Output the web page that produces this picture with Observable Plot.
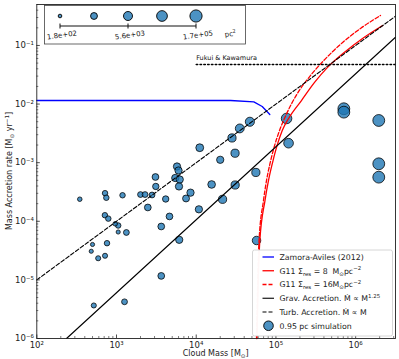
<!DOCTYPE html>
<html><head><meta charset="utf-8">
<script src="https://cdn.jsdelivr.net/npm/d3@7"></script>
<script src="https://cdn.jsdelivr.net/npm/@observablehq/plot@0.6"></script>
<style>
body{margin:0;background:#fff;}
#chart{width:399px;height:359px;}
</style></head><body><div id="chart"></div>
<script>
// 0.95 pc simulation clouds: mass [Msun], accretion rate [Msun/yr], area [pc^2]
const simMass = [346,718,745,1190,715,789,964,1050,1050,1330,
  500,760,482,589,718,519,1260,2000,2280,2790,
  3080,3110,2470,4140,4620,3640,5740,6000,5460,6210,
  6080,7450,8480,11070,10800,15600,20000,21400,6120,3640,
  47100,35200,28100,30700,56000,30800,1.36e5,1.44e5,7.11e5,7.11e5,
  1.95e6,1.95e6,1.95e6,57100];
const simRate = [2.38e-4,3.02e-4,2.52e-4,2.78e-4,1.27e-4,1.11e-4,9.06e-5,8.47e-5,6.56e-5,6.44e-5,
  4.02e-5,4.23e-5,3.08e-5,2.34e-5,2.58e-5,3.66e-6,4.23e-6,2.86e-4,2.86e-4,2.81e-4,
  5.70e-4,3.93e-4,1.72e-4,2.40e-4,1.21e-4,8.15e-5,8.61e-4,7.36e-4,5.48e-4,5.16e-4,
  3.93e-4,2.45e-4,3.08e-4,1.80e-3,1.60e-4,4.25e-4,1.12e-3,2.37e-4,4.83e-5,1.17e-5,
  4.99e-3,3.84e-3,2.64e-3,1.45e-3,6.81e-4,4.16e-4,5.68e-3,2.15e-3,8.32e-3,7.28e-3,
  5.25e-3,9.57e-4,5.66e-4,4.70e-5];
const simArea = [260,420,420,420,420,420,260,420,220,510,
  220,420,220,340,340,340,510,510,510,510,
  920,720,920,720,920,920,1350,1350,1350,1350,
  1350,1040,1350,2050,1350,1780,1350,2760,1350,920,
  6100,5000,2760,2760,2760,2760,25000,10200,111000,111000,
  111000,111000,111000,3500];

// Zamora-Aviles (2012)
const zamoraMass = [100, 2.7e4, 5.28e4, 6.73e4, 8.38e4];
const zamoraRate = [0.0115, 0.0115, 0.0109, 9.1e-3, 6.65e-3];

// G11 Sigma_res = 8
const g11aMass = [57900,59640,62800,72900,80700,89900,101900,120000,144000,209000,305000,444000,746000,1.22e6,2.18e6];
const g11aRate = [1e-6,6.59e-6,4.70e-5,2.26e-4,4.97e-4,9.57e-4,1.84e-3,3.54e-3,5.68e-3,0.0115,0.0234,0.0422,0.0790,0.1315,0.219];
// G11 Sigma_res = 16
const g11bMass = [57100,58700,61400,69800,76200,84300,94700,111000,136000,185000,272000,399000,686000,1.15e6,2.05e6];
const g11bRate = [1e-6,6.59e-6,4.70e-5,2.26e-4,4.97e-4,9.69e-4,1.82e-3,3.54e-3,6.83e-3,0.0150,0.0308,0.0555,0.1125,0.195,0.325];

// Grav. accretion (M^1.25) and turb. accretion (M)
const gravMass = [236, 3.162e6];
const gravRate = [1e-6, 0.138];
const turbMass = [100, 3.162e6];
const turbRate = [1e-5, 0.316];

// Fukui & Kawamura level
const fkMass = [1e4, 3.162e6];
const fkRate = [0.0474, 0.0474];

// ticks
const xMajor = [1e2,1e3,1e4,1e5,1e6];
const xMajorLabels = ["10²","10³","10⁴","10⁵","10⁶"];
const yMajor = [1e-6,1e-5,1e-4,1e-3,1e-2,1e-1];
const yMajorLabels = ["10⁻⁶","10⁻⁵","10⁻⁴","10⁻³","10⁻²","10⁻¹"];
const sizeLegendValues = [180, 1000, 5600, 31000, 170000];
const sizeLegendLabels = ["1.8e+02","","5.6e+03","","1.7e+05"];

const xDomain = [100, 3.162e6], yDomain = [1e-6, 0.5];
const xMinor = [], yMinor = [];
for (let e = 2; e <= 6; e++) for (let k = 2; k <= 9; k++) { const v = k * 10 ** e; if (v <= xDomain[1]) xMinor.push(v); }
for (let e = -6; e <= -1; e++) for (let k = 2; k <= 9; k++) { const v = k * 10 ** e; if (v <= yDomain[1]) yMinor.push(v); }

const zip = (a, b) => a.map((v, i) => ({m: v, r: b[i]}));
const sim = simMass.map((m, i) => ({m, r: simRate[i], area: simArea[i]}));
const rVal = a => Math.log10(a) - 1.963;

const W = 399, H = 359, mL = 36.3, mR = 4, mT = 4, mB = 21;
const fw = W - mL - mR, fh = H - mT - mB;

const plot = Plot.plot({
  width: W, height: H,
  marginLeft: mL, marginRight: mR, marginTop: mT, marginBottom: mB,
  x: {type: "log", domain: xDomain},
  y: {type: "log", domain: yDomain},
  r: {type: "sqrt", domain: [0, 3.267], range: [0, 6.1]},
  style: {fontFamily: "DejaVu Sans, sans-serif", fontSize: "8px", background: "white", color: "#222"},
  marks: [
    Plot.dot(sim, {x: "m", y: "r", r: d => rVal(d.area), fill: "#1f77b4", fillOpacity: 0.8, stroke: "#000", strokeOpacity: 0.85, strokeWidth: 0.9}),
    Plot.line(zip(zamoraMass, zamoraRate), {x: "m", y: "r", stroke: "blue", strokeWidth: 1.3}),
    Plot.line(zip(g11aMass, g11aRate), {x: "m", y: "r", stroke: "red", strokeWidth: 1.3, curve: "monotone-x"}),
    Plot.line(zip(g11bMass, g11bRate), {x: "m", y: "r", stroke: "red", strokeWidth: 1.3, strokeDasharray: "4,2", curve: "monotone-x"}),
    Plot.line(zip(gravMass, gravRate), {x: "m", y: "r", stroke: "black", strokeWidth: 1.1}),
    Plot.line(zip(turbMass, turbRate), {x: "m", y: "r", stroke: "black", strokeWidth: 1.1, strokeDasharray: "4,2"}),
    Plot.line(zip(fkMass, fkRate), {x: "m", y: "r", stroke: "black", strokeWidth: 1.5, strokeDasharray: "1.5,2.3"}),
    Plot.text([{m: fkMass[0], r: fkRate[0]}], {x: "m", y: "r", text: () => "Fukui & Kawamura", textAnchor: "start", dy: -7, fontSize: 6.5, fill: "#111"}),
    Plot.tickX(xMajor, {x: d => d, insetTop: fh - 3.5, stroke: "#222", strokeWidth: 0.8}),
    Plot.tickX(xMinor, {x: d => d, insetTop: fh - 2, stroke: "#222", strokeWidth: 0.6}),
    Plot.tickY(yMajor, {y: d => d, insetRight: fw - 3.5, stroke: "#222", strokeWidth: 0.8}),
    Plot.tickY(yMinor, {y: d => d, insetRight: fw - 2, stroke: "#222", strokeWidth: 0.6}),
    Plot.axisX(xMajor, {tickSize: 0, tickPadding: 3, tickFormat: d => xMajorLabels[xMajor.indexOf(d)], fontSize: 8.5, label: null}),
    Plot.axisY(yMajor, {tickSize: 0, tickPadding: 3, tickFormat: d => yMajorLabels[yMajor.indexOf(d)], fontSize: 8.5, label: null}),
    Plot.frame({stroke: "#222", strokeWidth: 0.9})
  ]
});
document.getElementById("chart").appendChild(plot);

const svg = d3.select(plot);
const font = "DejaVu Sans, sans-serif";
function rich(sel, parts, size) {
  let shift = 0;
  parts.forEach(([t, k]) => {
    const target = k === "sub" ? size * 0.25 : k === "sup" ? -size * 0.4 : 0;
    sel.append("tspan").attr("dy", target - shift).attr("font-size", k === "n" ? size : size * 0.7).text(t);
    shift = target;
  });
}

// axis labels
const xl = svg.append("text").attr("x", mL + fw / 2).attr("y", 356).attr("text-anchor", "middle")
  .attr("font-family", font).attr("fill", "#222");
rich(xl, [["Cloud Mass [M", "n"], ["⊙", "sub"], ["]", "n"]], 8);
const yl = svg.append("text").attr("transform", `translate(12,${mT + fh / 2}) rotate(-90)`).attr("text-anchor", "middle")
  .attr("font-family", font).attr("fill", "#222");
rich(yl, [["Mass Accretion rate [M", "n"], ["⊙", "sub"], [" yr", "n"], ["−1", "sup"], ["]", "n"]], 8);

// size legend (top-left)
const rScale = plot.scale("r");
const sl = svg.append("g").attr("font-family", font);
sl.append("rect").attr("x", 44.5).attr("y", 5.5).attr("width", 201).attr("height", 38.5)
  .attr("fill", "white").attr("stroke", "#444").attr("stroke-width", 0.8);
const slX = [60, 94, 128, 162, 196];
sizeLegendValues.forEach((v, i) => {
  sl.append("circle").attr("cx", slX[i]).attr("cy", 16).attr("r", rScale.apply(rVal(v)))
    .attr("fill", "#1f77b4").attr("fill-opacity", 0.8).attr("stroke", "#000").attr("stroke-width", 0.9);
});
sl.append("line").attr("x1", 60).attr("x2", 196).attr("y1", 26).attr("y2", 26).attr("stroke", "#111").attr("stroke-width", 1);
[0, 2, 4].forEach(i => {
  sl.append("line").attr("x1", slX[i]).attr("x2", slX[i]).attr("y1", 23.5).attr("y2", 28.5).attr("stroke", "#111").attr("stroke-width", 1);
  sl.append("text").attr("transform", `translate(${slX[i] + 2},35.5) rotate(-8)`).attr("text-anchor", "middle")
    .attr("dominant-baseline", "middle").attr("font-size", 7).attr("fill", "#222").text(sizeLegendLabels[i]);
});
const pc = sl.append("text").attr("transform", "translate(225,37) rotate(-8)").attr("text-anchor", "start").attr("fill", "#222");
rich(pc, [["pc", "n"], ["2", "sup"]], 7);

// line legend (bottom-right)
const lg = svg.append("g").attr("font-family", font).attr("text-anchor", "start");
lg.append("rect").attr("x", 252.5).attr("y", 250).attr("width", 140).attr("height", 86).attr("rx", 2)
  .attr("fill", "white").attr("fill-opacity", 0.97).attr("stroke", "#ccc").attr("stroke-width", 0.8);
const entries = [
  {stroke: "blue", dash: null, w: 1.3, parts: [["Zamora-Aviles (2012)", "n"]]},
  {stroke: "red", dash: null, w: 1.3, parts: [["G11 Σ", "n"], ["res", "sub"], [" = 8  M", "n"], ["⊙", "sub"], ["pc", "n"], ["−2", "sup"]]},
  {stroke: "red", dash: "4,2", w: 1.3, parts: [["G11 Σ", "n"], ["res", "sub"], [" = 16M", "n"], ["⊙", "sub"], ["pc", "n"], ["−2", "sup"]]},
  {stroke: "black", dash: null, w: 1.1, parts: [["Grav. Accretion. Ṁ ∝ M", "n"], ["1.25", "sup"]]},
  {stroke: "black", dash: "4,2", w: 1.1, parts: [["Turb. Accretion. Ṁ ∝ M", "n"]]},
  {dot: true, parts: [["0.95 pc simulation", "n"]]}
];
entries.forEach((e, i) => {
  const y = 257 + i * 13.75;
  if (e.dot) {
    lg.append("circle").attr("cx", 268.5).attr("cy", y).attr("r", 4.8)
      .attr("fill", "#1f77b4").attr("fill-opacity", 0.8).attr("stroke", "#000").attr("stroke-width", 0.9);
  } else {
    lg.append("line").attr("x1", 262.5).attr("x2", 274).attr("y1", y).attr("y2", y)
      .attr("stroke", e.stroke).attr("stroke-width", e.w).attr("stroke-dasharray", e.dash);
  }
  const t = lg.append("text").attr("x", 279.5).attr("y", y + 2.8).attr("text-anchor", "start").attr("fill", "#222");
  rich(t, e.parts, 7.8);
});
</script></body></html>
